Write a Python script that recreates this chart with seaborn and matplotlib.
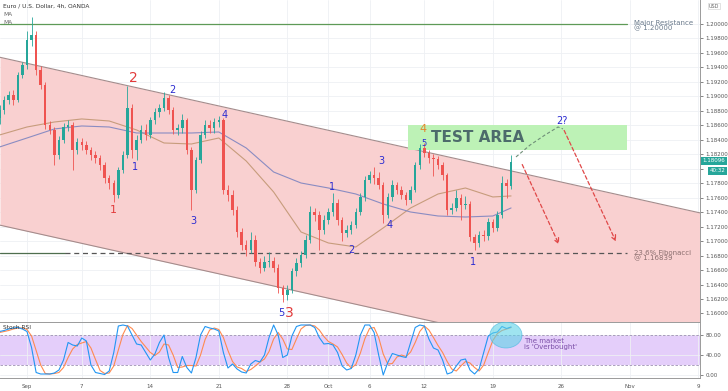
import matplotlib
matplotlib.use("Agg")
import numpy as np
import matplotlib.pyplot as plt
import seaborn as sns
from matplotlib.patches import Ellipse, Rectangle

sns.set_theme(style="white")
plt.rcParams['font.family'] = ['DejaVu Sans']

# ---------------- data ----------------
first_open = 1.1870
closes = [1.1881,1.1895,1.1902,1.1895,1.1930,1.1943,1.1978,1.1985,1.1937,1.1916,
          1.1861,1.1854,1.1819,1.1840,1.1858,1.1861,1.1826,1.1837,1.1833,1.1826,
          1.1819,1.1815,1.1805,1.1787,1.1780,1.1764,1.1798,1.1819,1.1884,1.1826,
          1.1840,1.1854,1.1847,1.1867,1.1878,1.1884,1.1898,1.1881,1.1854,1.1856,
          1.1867,1.1826,1.1771,1.1812,1.1847,1.1861,1.1856,1.1865,1.1867,1.1771,
          1.1764,1.1743,1.1713,1.1695,1.1688,1.1702,1.1671,1.1663,1.1671,1.1672,
          1.1663,1.1635,1.1626,1.1633,1.1658,1.1670,1.1681,1.1702,1.1740,1.1736,
          1.1715,1.1729,1.1740,1.1753,1.1729,1.1711,1.1715,1.1722,1.1740,1.1761,
          1.1785,1.1791,1.1787,1.1778,1.1736,1.1761,1.1778,1.1771,1.1764,1.1757,
          1.1771,1.1805,1.1829,1.1822,1.1815,1.1814,1.1805,1.1791,1.1743,1.1746,
          1.1760,1.1750,1.1751,1.1706,1.1697,1.1708,1.1707,1.1726,1.1718,1.1736,
          1.1780,1.1776,1.1810]
highs = [1.1888,1.1900,1.1908,1.1909,1.1934,1.1948,1.1990,1.2010,1.1990,1.1942,
         1.1920,1.1866,1.1858,1.1845,1.1863,1.1868,1.1865,1.1842,1.1842,1.1838,
         1.1830,1.1824,1.1819,1.1809,1.1792,1.1785,1.1802,1.1824,1.1915,1.1890,
         1.1846,1.1860,1.1862,1.1872,1.1884,1.1890,1.1906,1.1902,1.1885,1.1862,
         1.1875,1.1870,1.1830,1.1816,1.1852,1.1868,1.1867,1.1870,1.1873,1.1870,
         1.1778,1.1770,1.1748,1.1718,1.1702,1.1712,1.1708,1.1677,1.1680,1.1685,
         1.1678,1.1668,1.1640,1.1640,1.1663,1.1676,1.1687,1.1708,1.1748,1.1746,
         1.1742,1.1736,1.1746,1.1767,1.1758,1.1733,1.1722,1.1728,1.1746,1.1767,
         1.1790,1.1797,1.1802,1.1795,1.1782,1.1766,1.1784,1.1782,1.1776,1.1768,
         1.1776,1.1810,1.1834,1.1835,1.1826,1.1820,1.1818,1.1809,1.1794,1.1752,
         1.1770,1.1765,1.1762,1.1755,1.1710,1.1714,1.1716,1.1732,1.1730,1.1742,
         1.1790,1.1786,1.1819]
lows = [1.1862,1.1876,1.1890,1.1888,1.1892,1.1925,1.1938,1.1970,1.1930,1.1910,
        1.1855,1.1848,1.1805,1.1814,1.1836,1.1852,1.1798,1.1820,1.1826,1.1820,
        1.1812,1.1808,1.1798,1.1780,1.1772,1.1754,1.1760,1.1794,1.1815,1.1815,
        1.1812,1.1836,1.1840,1.1843,1.1862,1.1872,1.1880,1.1876,1.1848,1.1846,
        1.1850,1.1820,1.1743,1.1766,1.1808,1.1842,1.1849,1.1850,1.1858,1.1765,
        1.1755,1.1736,1.1706,1.1688,1.1680,1.1683,1.1665,1.1656,1.1658,1.1664,
        1.1657,1.1628,1.1616,1.1618,1.1628,1.1652,1.1664,1.1676,1.1698,1.1728,
        1.1688,1.1710,1.1724,1.1735,1.1722,1.1700,1.1705,1.1710,1.1718,1.1736,
        1.1756,1.1780,1.1779,1.1772,1.1725,1.1732,1.1756,1.1765,1.1758,1.1750,
        1.1752,1.1768,1.1800,1.1816,1.1808,1.1790,1.1799,1.1785,1.1736,1.1738,
        1.1742,1.1729,1.1744,1.1700,1.1688,1.1692,1.1700,1.1702,1.1712,1.1714,
        1.1732,1.1760,1.1772]
opens = [first_open] + closes[:-1]

stoch_k = [87,89,92,94,95,92,87,55,5,2,
           2,2,4,10,30,65,60,58,74,68,
           20,5,3,1,8,45,98,100,98,80,
           62,60,45,30,42,65,80,35,5,5,
           37,15,4,35,80,97,94,92,88,45,
           14,22,12,6,4,22,29,26,40,75,
           100,80,35,40,78,97,100,100,100,95,
           75,62,63,60,45,18,10,13,40,80,
           100,100,85,40,0,25,43,40,37,35,
           65,95,100,98,72,54,50,30,2,5,
           18,30,32,10,2,12,45,78,84,86,
           97,93,96]
stoch_d = [85,87,89,92,94,94,91,78,49,20,
           3,2,3,5,15,35,52,61,64,67,
           54,31,9,3,4,18,50,81,99,93,
           80,67,56,45,39,46,62,60,40,15,
           16,19,19,18,40,71,90,94,91,75,
           49,27,16,13,7,11,18,26,32,47,
           72,85,72,52,51,72,92,99,100,98,
           90,77,67,62,56,41,24,14,21,44,
           73,93,95,75,42,22,23,36,40,37,
           46,65,87,98,90,75,59,45,27,12,
           8,18,27,24,15,8,20,45,69,83,
           89,92,95]

ma_days = [-2,0,2,4,6,8,10,12,14,16,18,20,22,24,26,28,30,32,34,35.33]
ma_fast = [1.18467,1.18577,1.18646,1.18688,1.18660,1.18536,1.18356,1.18342,1.18425,1.18107,
           1.17679,1.17126,1.16974,1.16919,1.17182,1.17458,1.17651,1.17734,1.17610,1.17624]
ma_slow = [1.18301,1.18425,1.18550,1.18591,1.18577,1.18494,1.18494,1.18494,1.18508,1.18287,
           1.17955,1.17803,1.17734,1.17651,1.17513,1.17402,1.17347,1.17333,1.17347,1.17458]

channel_days = [-1.97, 49.12]
channel_upper = [1.1954, 1.1739]
channel_lower = [1.1722, 1.1507]

resistance = 1.20000
fib_level = 1.16839
test_low, test_high = 1.1826, 1.1861
last_price = 1.18096

proj_up_days = [35.69, 36.72, 37.81, 38.76, 39.12]
proj_up_prices = [1.18163, 1.18328, 1.18467, 1.18577, 1.18550]

tick_days = [0, 4, 9, 14, 19, 22, 25, 29, 34, 39, 44, 49]
tick_labels = ["Sep", "7", "14", "21", "28", "Oct", "6", "12", "19", "26", "Nov", "9"]
price_ticks = [1.160 + 0.002 * k for k in range(21)]

# candle time axis: 8h candles in trading days, starting 2 days before Sep 1
days = np.array([-2 + i / 3 for i in range(len(closes))])

# ---------------- figure ----------------
W, H = 728, 391
fig = plt.figure(figsize=(W / 100, H / 100), dpi=100)
ax = fig.add_axes([0, 1 - 322 / H, 700 / W, 322 / H])
ax2 = fig.add_axes([0, 1 - 378 / H, 700 / W, 56 / H])
XL = (-1.97, 49.12)

grid_c = '#eef0f4'
for a in (ax, ax2):
    a.set_facecolor('white')
    a.set_xlim(*XL)
    a.set_xticks(tick_days)
    a.grid(True, color=grid_c, lw=0.6, zorder=0)
    a.set_axisbelow(True)
    for s in a.spines.values():
        s.set_color('#9a9a9a')
        s.set_linewidth(0.7)
    a.spines['left'].set_visible(False)

ax.set_ylim(1.15882, 1.20332)
ax.set_yticks(price_ticks)
# the 1.18000 label is hidden behind the countdown tag in the reference
ax.set_yticklabels(["" if abs(v - 1.18) < 1e-6 else f"{v:.5f}" for v in price_ticks])
ax.yaxis.tick_right()
ax.tick_params(axis='y', labelsize=4, colors='#555555', length=2, pad=2, width=0.5)
ax.tick_params(axis='x', labelbottom=False, length=0)
ax.spines['top'].set_visible(False)
ax.spines['bottom'].set_visible(False)

# channel
ax.fill_between(channel_days, channel_lower, channel_upper, color='#f9d0d0', zorder=0.6, lw=0)
ax.plot(channel_days, channel_upper, color='#a48c8c', lw=0.8, zorder=0.7)
ax.plot(channel_days, channel_lower, color='#a48c8c', lw=0.8, zorder=0.7)

# test area
ax.add_patch(Rectangle((27.8, test_low), 43.8 - 27.8, test_high - test_low,
                       facecolor='#bdf2b6', edgecolor='none', zorder=0.8))
ax.text(32.9, (test_low + test_high) / 2 - 0.0001, "TEST AREA", fontsize=11, fontweight='bold',
        color='#4d6b6b', ha='center', va='center', zorder=5)

# resistance & fib
ax.plot([-1.97, 43.8], [resistance, resistance], color='#5e9a57', lw=0.9, zorder=1)
ax.plot([-1.97, 2.8], [fib_level, fib_level], color='#4e6e4e', lw=0.9, zorder=1)
ax.plot([2.8, 43.8], [fib_level, fib_level], color='#555555', lw=0.9, ls=(0, (4, 3)), zorder=1)
ax.text(44.3, resistance - 0.0002, "Major Resistance\n@ 1.20000", fontsize=5, color='#6b7b8c',
        ha='left', va='center', linespacing=0.9)
ax.text(44.3, fib_level - 0.0004, "23.6% Fibonacci\n@ 1.16839", fontsize=5, color='#8a6e6e',
        ha='left', va='center', linespacing=0.9)

# moving averages
sns.lineplot(x=ma_days, y=ma_fast, ax=ax, color='#c79c7c', lw=0.8, zorder=2)
sns.lineplot(x=ma_days, y=ma_slow, ax=ax, color='#8a8cc2', lw=0.8, zorder=2)

# candles
o = np.array(opens); c = np.array(closes)
up = c >= o
cols = np.where(up, '#26a69a', '#ef5350')
ax.vlines(days, lows, highs, colors=cols, lw=0.6, zorder=3)
body_h = np.maximum(np.abs(c - o), 0.00006)
ax.bar(days, body_h, bottom=np.minimum(o, c), width=0.18, color=cols, lw=0, zorder=3.5)

# projections
ax.plot(proj_up_days, proj_up_prices, color='#6f8f78', lw=0.8, ls=(0, (3, 2)), zorder=4)
arrow_kw = dict(arrowstyle='->', color='#e04848', lw=0.9, linestyle=(0, (3, 2)), mutation_scale=9)
ax.annotate('', xy=(38.91, 1.16919), xytext=(36.06, 1.18093), arrowprops=arrow_kw, zorder=4)
ax.annotate('', xy=(43.07, 1.16960), xytext=(39.12, 1.18564), arrowprops=arrow_kw, zorder=4)

# wave labels
blue = '#2b2bd0'; red = '#e23b3b'; orange = '#e5852b'
labels = [("2", 7.74, 1.19254, red, 10), ("2", 10.58, 1.19088, blue, 7),
          ("4", 14.45, 1.18743, blue, 7), ("1", 7.88, 1.18025, blue, 7),
          ("1", 6.28, 1.17430, red, 8), ("3", 12.12, 1.17278, blue, 7),
          ("1", 22.26, 1.17748, blue, 7), ("2", 23.65, 1.16878, blue, 7),
          ("3", 25.84, 1.18107, blue, 7), ("4", 26.50, 1.17223, blue, 7),
          ("4", 28.91, 1.18545, orange, 8), ("5", 28.98, 1.18345, blue, 6),
          ("1", 32.55, 1.16712, blue, 7), ("5", 18.58, 1.16007, blue, 7),
          ("3", 19.12, 1.16007, red, 10), ("2?", 39.05, 1.18660, blue, 7)]
for t, xd, yp, colr, fs in labels:
    ax.text(xd, yp, t, color=colr, fontsize=fs, ha='center', va='center', zorder=6)

# header texts
fig.text(3 / W, 1 - 6 / H, "Euro / U.S. Dollar, 4h, OANDA", fontsize=4.2, color='#333333', va='center')
fig.text(3 / W, 1 - 15 / H, "MA", fontsize=4.2, color='#666666', va='center')
fig.text(3 / W, 1 - 23 / H, "MA", fontsize=4.2, color='#666666', va='center')
fig.text(709 / W, 1 - 6 / H, "USD", fontsize=3.5, color='#666666', va='center',
         bbox=dict(boxstyle='square,pad=0.2', fc='white', ec='#cccccc', lw=0.4))

# price tags
ax.annotate("1.18096", xy=(1.0, last_price), xycoords=('axes fraction', 'data'),
            xytext=(2, 0.6), textcoords='offset points', fontsize=4, color='white', va='center',
            bbox=dict(boxstyle='square,pad=0.3', fc='#26a69a', ec='none'), annotation_clip=False, zorder=10)
ax.annotate("40:32", xy=(1.0, last_price - 0.00112), xycoords=('axes fraction', 'data'),
            xytext=(7, -0.6), textcoords='offset points', fontsize=4, color='white', va='center',
            bbox=dict(boxstyle='square,pad=0.25', fc='#26a69a', ec='none'), annotation_clip=False, zorder=10)

# ---------------- stochastic RSI pane ----------------
ax2.set_ylim(-6, 106)
ax2.axhspan(20, 80, color='#e4cefa', zorder=0.5, lw=0)
ax2.axhline(80, color='#9d8fb3', lw=0.6, ls=(0, (3, 2)), zorder=0.6)
ax2.axhline(20, color='#9d8fb3', lw=0.6, ls=(0, (3, 2)), zorder=0.6)
sns.lineplot(x=days, y=stoch_d, ax=ax2, color='#ff8a50', lw=0.8, zorder=2)
sns.lineplot(x=days, y=stoch_k, ax=ax2, color='#2196f3', lw=0.8, zorder=2.1)
ax2.add_patch(Ellipse((34.96, 80), 2.34, 52, facecolor='#5fd3e6', alpha=0.6,
                      edgecolor='#3fb6e0', lw=0.6, zorder=3))
ax2.text(36.3, 62, "The market\nis 'Overbought'", fontsize=5, color='#7b4fa8',
         ha='left', va='center', linespacing=0.95, zorder=4)
ax2.text(0.004, 0.9, "Stoch RSI", transform=ax2.transAxes, fontsize=4.2, color='#333333',
         ha='left', va='center')
ax2.set_yticks([0, 40, 80])
ax2.set_yticklabels(["0.00", "40.00", "80.00"])
ax2.yaxis.tick_right()
ax2.tick_params(axis='y', labelsize=4, colors='#555555', length=2, pad=2, width=0.5)
ax2.set_xticklabels(tick_labels)
ax2.tick_params(axis='x', labelsize=4, colors='#555555', length=2, pad=2, width=0.5)
ax2.set_xlabel(''); ax2.set_ylabel('')
ax.set_xlabel(''); ax.set_ylabel('')

fig.savefig("out.png", dpi=100)
